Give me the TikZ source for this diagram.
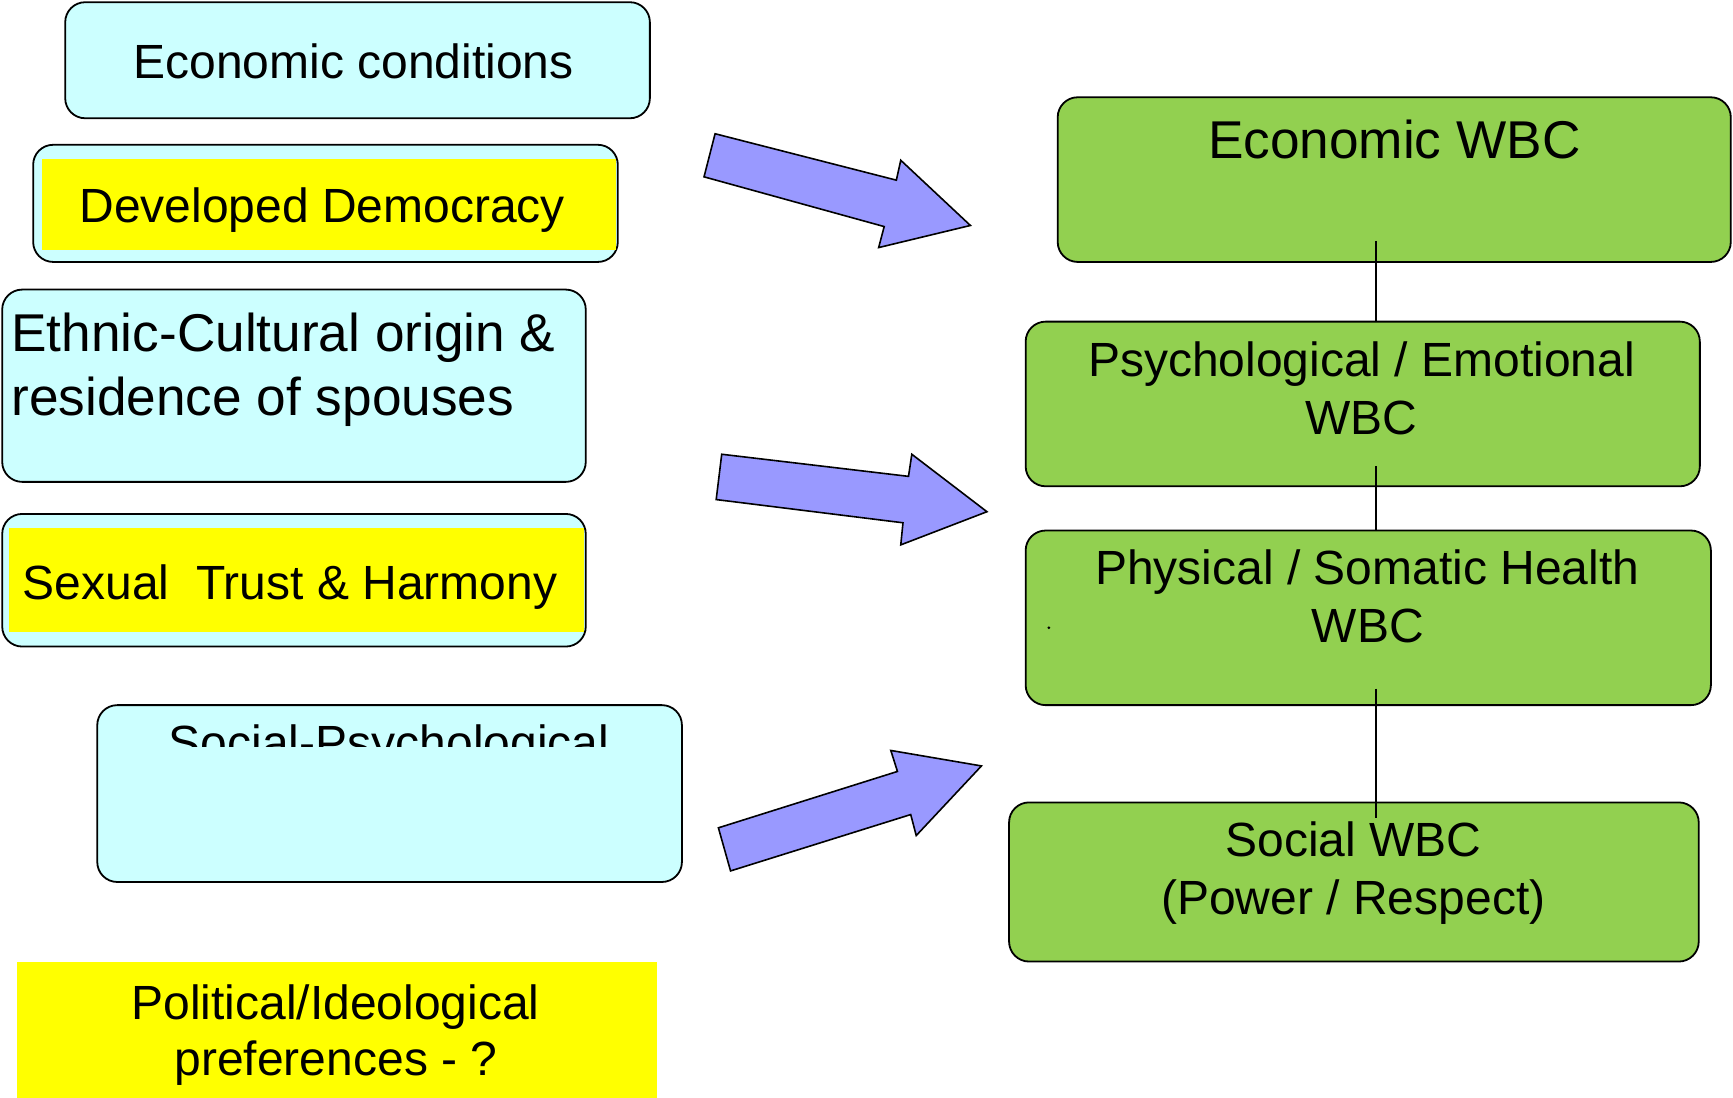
\documentclass[tikz,border=0pt]{standalone}
\usepackage{fontspec}
\setmainfont{Liberation Sans}
\usetikzlibrary{fit}
\definecolor{cyanbox}{HTML}{CCFFFF}
\definecolor{yel}{HTML}{FFFF00}
\definecolor{grn}{HTML}{92D050}
\definecolor{arr}{HTML}{9999FF}
\begin{document}
\begin{tikzpicture}[x=0.5526pt,y=-0.5526pt,
 cbox/.style={draw=black, line width=0.9pt, fill=cyanbox, rounded corners=10pt, inner sep=0pt},
 gbox/.style={draw=black, line width=0.9pt, fill=grn, rounded corners=10pt, inner sep=0pt},
 ybox/.style={fill=yel, inner sep=0pt},
 txt/.style={font=\fontsize{24}{28}\selectfont, inner sep=0pt, anchor=base},
 bigtxt/.style={font=\fontsize{26.6}{32}\selectfont, inner sep=0pt, anchor=base},
 arrowshape/.style={draw=black, line width=0.8pt, fill=arr, line join=miter},
 link/.style={draw=black, line width=0.8pt}]
\useasboundingbox[fill=white] (0,0) rectangle (1568,993);

% left boxes
\node[cbox, fit={(59,2) (588,107)}] (econ) {};
\node[cbox, fit={(30,131) (559,237)}] (demo) {};
\node[ybox, fit={(38,144) (557,226)}] (demoy) {};
\node[cbox, fit={(2,262) (530,436)}] (ethnic) {};
\node[cbox, fit={(2,465) (530,585)}] (sex) {};
\node[ybox, fit={(8,478) (528,572)}] (sexy) {};
\node[cbox, fit={(88,638) (617,798)}] (socpsy) {};
\node[ybox, fit={(15,870) (594,993)}] (polit) {};

% right boxes
\node[gbox, fit={(957,88) (1566,237)}] (ewbc) {};
\node[gbox, fit={(928,291) (1538,440)}] (pwbc) {};
\node[gbox, fit={(928,480) (1548,638)}] (hwbc) {};
\node[gbox, fit={(913,726) (1537,870)}] (swbc) {};

% texts
\node[txt] (t1) at (320,71) {Economic conditions};
\node[txt] (t2) at (291.5,201) {Developed Democracy};
\node[bigtxt, anchor=base west] (t3a) at (10,318) {Ethnic-Cultural origin \&};
\node[bigtxt, anchor=base west] (t3b) at (10,376) {residence of spouses};
\node[txt] (t4) at (262.5,542) {Sexual\ \ Trust \& Harmony};
\begin{scope}
\clip (88,640) rectangle (617,675);
\node[txt] (t5) at (352,687) {Social-Psychological};
\end{scope}
\node[txt] (t6a) at (303.5,922) {Political/Ideological};
\node[txt] (t6b) at (304,973) {preferences - ?};

\node[bigtxt] (t7) at (1261.5,143) {Economic WBC};
\node[txt] (t8a) at (1232,341) {Psychological / Emotional};
\node[txt] (t8b) at (1232,393) {WBC};
\node[txt] (t9a) at (1237,529) {Physical / Somatic Health};
\node[txt] (t9b) at (1237.5,581) {WBC};
\node[txt] (t10a) at (1224.5,775) {Social WBC};
\node[txt] (t10b) at (1224.5,827) {(Power / Respect)};
\fill (949,568) circle (1.3);

% arrows
\draw[arrowshape] (647,121) -- (811,163) -- (815,145) -- (878,204) -- (795,224) -- (800,205) -- (637,160) -- cycle;
\draw[arrowshape] (653,411) -- (822,431) -- (825,411) -- (893,463) -- (815,493) -- (817,473) -- (648,452) -- cycle;
\draw[arrowshape] (650,749) -- (812,698) -- (806,679) -- (888,693) -- (829,756) -- (824,737) -- (661,788) -- cycle;

% connectors
\coordinate (c1) at (1245,218);
\coordinate (c2) at (1245,422);
\coordinate (c3) at (1245,623);
\coordinate (c4) at (1245,740);
\draw[link] (c1) -- (c1 |- pwbc.north);
\draw[link] (c2) -- (c2 |- hwbc.north);
\draw[link] (c3) -- (c4);
\end{tikzpicture}
\end{document}
